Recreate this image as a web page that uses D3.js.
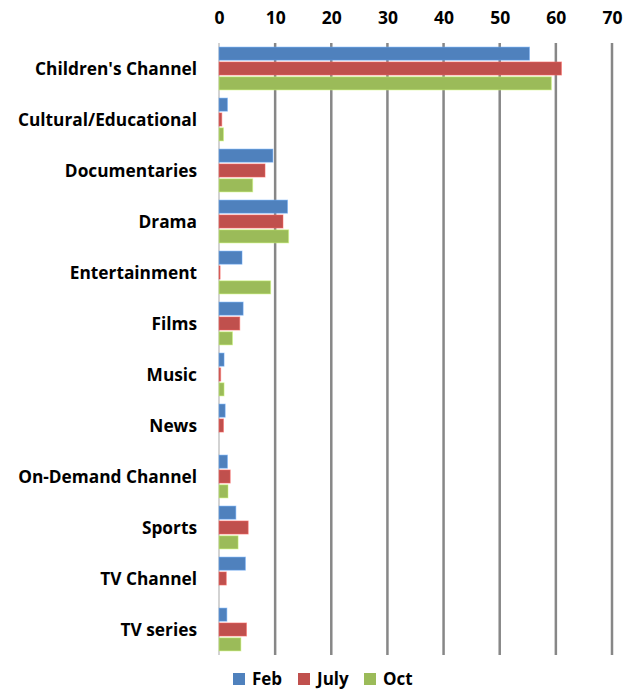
<!DOCTYPE html>
<html>
<head>
<meta charset="utf-8">
<script src="https://cdn.jsdelivr.net/npm/d3@7"></script>
<style>
  body { margin: 0; background: #fff; }
  text { font-family: "Open Sans", sans-serif; font-weight: bold; fill: #000; }
</style>
</head>
<body>
<svg id="chart" width="632" height="690"></svg>
<script>
const categories = ["Children's Channel", "Cultural/Educational", "Documentaries", "Drama",
  "Entertainment", "Films", "Music", "News", "On-Demand Channel", "Sports", "TV Channel", "TV series"];
const seriesNames = ["Feb", "July", "Oct"];
const feb  = [55.3, 1.5, 9.6, 12.2, 4.1, 4.3, 0.9, 1.1, 1.5, 3.0, 4.7, 1.4];
const july = [61.0, 0.5, 8.2, 11.4, 0.2, 3.7, 0.3, 0.8, 2.0, 5.2, 1.3, 4.9];
const oct  = [59.2, 0.8, 6.0, 12.4, 9.2, 2.4, 0.9, 0.0, 1.6, 3.4, 0.0, 3.9];
const xTicks = [0, 10, 20, 30, 40, 50, 60, 70];
const colors = ["#4F81BD", "#C0504D", "#9BBB59"];

const values = [feb, july, oct];
const svg = d3.select("#chart");
const plotTop = 43, plotBottom = 655, plotLeft = 219, plotRight = 612;

const xScale = d3.scaleLinear().domain([0, 70]).range([plotLeft, plotRight]);
const yScale = d3.scaleBand().domain(categories).range([plotTop, plotBottom]).paddingInner(0.16).paddingOuter(0.08);
const ySub = d3.scaleBand().domain(seriesNames).range([0, yScale.bandwidth()]).paddingInner(0.12);
const colorScale = d3.scaleOrdinal().domain(seriesNames).range(colors);

// grid lines
svg.append("g").selectAll("line")
  .data(xTicks.slice(1))
  .enter().append("line")
  .attr("x1", d => xScale(d)).attr("x2", d => xScale(d))
  .attr("y1", plotTop).attr("y2", plotBottom)
  .attr("stroke", "#878787").attr("stroke-width", 2.5);

svg.append("line")
  .attr("x1", xScale(0)).attr("x2", xScale(0))
  .attr("y1", plotTop).attr("y2", plotBottom)
  .attr("stroke", "#c4c4c4").attr("stroke-width", 1.5);

// top axis labels
let x_axis = d3.axisTop(xScale).tickValues(xTicks).tickSize(0).tickPadding(0);
let ax = svg.append("g").attr("transform", `translate(0,${24})`).call(x_axis);
ax.select(".domain").remove();
ax.selectAll("text").style("font-size", "17.5px").style("font-family", "'Open Sans', sans-serif").style("font-weight", "bold").attr("fill", "#000");

// category labels
svg.append("g").selectAll("text")
  .data(categories)
  .enter().append("text")
  .attr("x", 197)
  .attr("y", d => yScale(d) + yScale.bandwidth() / 2)
  .attr("dy", "0.35em")
  .attr("text-anchor", "end")
  .style("font-size", "17.3px")
  .text(d => d);

// bars
seriesNames.forEach((s, si) => {
  svg.append("g").selectAll("rect")
    .data(categories)
    .enter().append("rect")
    .attr("x", xScale(0))
    .attr("y", (d) => yScale(d) + ySub(s))
    .attr("width", (d, i) => xScale(values[si][i]) - xScale(0))
    .attr("height", ySub.bandwidth())
    .attr("fill", colorScale(s))
    .attr("stroke", d3.color(colorScale(s)).brighter(0.8))
    .attr("stroke-opacity", 0.5)
    .attr("stroke-width", 1);
});

// legend
const legendX = [233, 298, 364];
const legend = svg.append("g");
seriesNames.forEach((s, i) => {
  legend.append("rect")
    .attr("x", legendX[i]).attr("y", 673)
    .attr("width", 12).attr("height", 12)
    .attr("fill", colorScale(s));
  legend.append("text")
    .attr("x", legendX[i] + 19).attr("y", 685)
    .style("font-size", "17px")
    .text(s);
});
</script>
</body>
</html>
